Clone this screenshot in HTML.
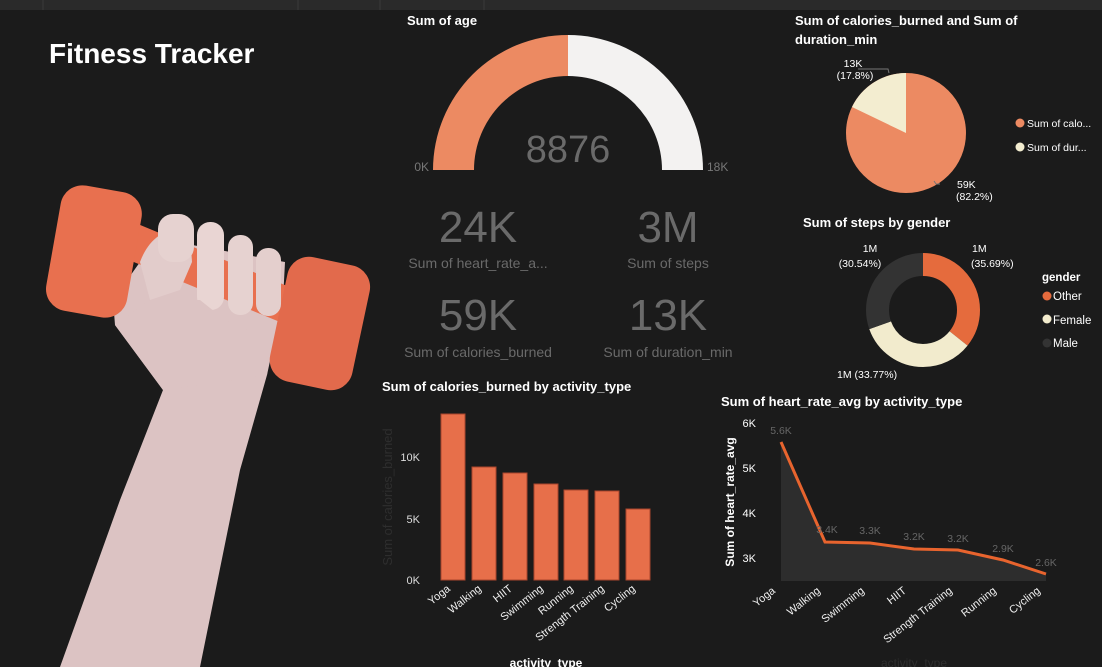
<!DOCTYPE html>
<html><head><meta charset="utf-8"><style>
body{margin:0;background:#1b1b1b;width:1102px;height:667px;overflow:hidden;font-family:"Liberation Sans",sans-serif}
svg{position:absolute;left:0;top:0}
</style></head><body>
<svg width="1102" height="667" viewBox="0 0 1102 667" xmlns="http://www.w3.org/2000/svg" font-family="Liberation Sans, sans-serif">
<rect x="0" y="0" width="1102" height="10" fill="#2a2a2a"/>
<line x1="43" y1="0" x2="43" y2="10" stroke="#3a3a3a"/><line x1="298" y1="0" x2="298" y2="10" stroke="#3a3a3a"/><line x1="380" y1="0" x2="380" y2="10" stroke="#3a3a3a"/><line x1="484" y1="0" x2="484" y2="10" stroke="#3a3a3a"/>
<text x="49" y="63" fill="#fff" font-size="28" font-weight="bold">Fitness Tracker</text>

<!-- arm image -->
<path d="M60,667 L120,500 L163,390 L115,325 L113,300 L140,262 L165,240 L285,262 L283,300 L267,375 L240,470 L200,667 Z" fill="#dcc3c3"/>
<path d="M133,222 L292,288 L280,322 L124,258 Z" fill="#e8704f"/>
<rect x="53" y="188" width="82" height="127" rx="22" fill="#e8704f" transform="rotate(10 94 251)"/>
<rect x="278" y="260" width="84" height="127" rx="22" fill="#e26a4c" transform="rotate(12 320 323)"/>
<path d="M140,262 C150,235 170,225 190,232 L192,262 L180,290 L150,300 Z" fill="#e2cccb"/>
<rect x="158" y="214" width="36" height="48" rx="15" fill="#e6d2d0"/>
<rect x="197" y="222" width="27" height="88" rx="13" fill="#e9d5d3"/>
<rect x="228" y="235" width="25" height="80" rx="12" fill="#e6d2d0"/>
<rect x="256" y="248" width="25" height="68" rx="12" fill="#e4cfcd"/>
<path d="M150,300 L200,300 L225,320 L270,340 L267,375 L163,390 L115,325 Z" fill="#dcc3c3"/>

<!-- gauge -->
<text x="407" y="25" fill="#fff" font-size="13" font-weight="bold">Sum of age</text>
<path d="M433,170 A135,135 0 0 1 568,35 L568,76 A94,94 0 0 0 474,170 Z" fill="#ec8a62"/>
<path d="M568,35 A135,135 0 0 1 703,170 L662,170 A94,94 0 0 0 568,76 Z" fill="#f3f2f1"/>
<text x="568" y="162" fill="#6a6a6a" font-size="38" text-anchor="middle">8876</text>
<text x="429" y="171" fill="#777" font-size="12" text-anchor="end">0K</text>
<text x="707" y="171" fill="#777" font-size="12">18K</text>

<g fill="#6a6a6a" text-anchor="middle">
<text x="478" y="242" font-size="44">24K</text>
<text x="668" y="242" font-size="44">3M</text>
<text x="478" y="330" font-size="44">59K</text>
<text x="668" y="330" font-size="44">13K</text>
<text x="478" y="268" font-size="14">Sum of heart_rate_a...</text>
<text x="668" y="268" font-size="14">Sum of steps</text>
<text x="478" y="357" font-size="14">Sum of calories_burned</text>
<text x="668" y="357" font-size="14">Sum of duration_min</text>
</g>

<!-- pie 1 -->
<text x="795" y="25" fill="#fff" font-size="13" font-weight="bold">Sum of calories_burned and Sum of</text>
<text x="795" y="44" fill="#fff" font-size="13" font-weight="bold">duration_min</text>
<circle cx="906" cy="133" r="60" fill="#ec8a62"/>
<path d="M906,133 L906,73 A60,60 0 0 0 852,107 Z" fill="#f3edd0"/>
<g fill="#fff" font-size="10.5">
<text x="853" y="67" text-anchor="middle">13K</text><text x="855" y="79" text-anchor="middle">(17.8%)</text>
<text x="957" y="188">59K</text><text x="956" y="200">(82.2%)</text>
<text x="1027" y="127">Sum of calo...</text><text x="1027" y="151">Sum of dur...</text>
</g>
<polyline points="858,69 888,69 889,73" fill="none" stroke="#777"/>
<polyline points="940,184 936,184 934,181" fill="none" stroke="#777"/>
<circle cx="1020" cy="123" r="4.5" fill="#ec8a62"/><circle cx="1020" cy="147" r="4.5" fill="#f3edd0"/>

<!-- donut -->
<text x="803" y="227" fill="#fff" font-size="13" font-weight="bold">Sum of steps by gender</text>
<g transform="rotate(-90 923 310)" fill="none" stroke-width="23">
<circle cx="923" cy="310" r="45.5" stroke="#e56b3d" stroke-dasharray="102 300"/>
<circle cx="923" cy="310" r="45.5" stroke="#f2ebcd" stroke-dasharray="0 102 96.5 300"/>
<circle cx="923" cy="310" r="45.5" stroke="#333" stroke-dasharray="0 198.5 87.4 300"/>
</g>
<g fill="#fff" font-size="10.5">
<text x="870" y="252" text-anchor="middle">1M</text><text x="860" y="267" text-anchor="middle">(30.54%)</text>
<text x="972" y="252">1M</text><text x="971" y="267">(35.69%)</text>
<text x="837" y="378">1M (33.77%)</text>
<text x="1042" y="281" font-weight="bold" font-size="11.5">gender</text>
<text x="1053" y="300" font-size="11.5">Other</text><text x="1053" y="324" font-size="11.5">Female</text><text x="1053" y="347" font-size="11.5">Male</text>
</g>
<circle cx="1047" cy="296" r="4.5" fill="#e56b3d"/><circle cx="1047" cy="319" r="4.5" fill="#f2ebcd"/><circle cx="1047" cy="343" r="4.5" fill="#333"/>

<!-- bar chart -->
<text x="382" y="391" fill="#fff" font-size="13" font-weight="bold">Sum of calories_burned by activity_type</text>
<g fill="#e76f4a" stroke="#a8452c" stroke-width="1">
<rect x="441" y="414" width="24" height="166"/>
<rect x="472" y="467" width="24" height="113"/>
<rect x="503" y="473" width="24" height="107"/>
<rect x="534" y="484" width="24" height="96"/>
<rect x="564" y="490" width="24" height="90"/>
<rect x="595" y="491" width="24" height="89"/>
<rect x="626" y="509" width="24" height="71"/>
</g>
<g fill="#ddd" font-size="11" text-anchor="end">
<text x="420" y="461">10K</text><text x="420" y="523">5K</text><text x="420" y="584">0K</text>
</g>
<text transform="translate(392 497) rotate(-90)" fill="#2e2e2e" font-size="13" text-anchor="middle">Sum of calories_burned</text>
<g fill="#eee" font-size="11" text-anchor="end">
<text transform="translate(451 590) rotate(-38)">Yoga</text>
<text transform="translate(482 590) rotate(-38)">Walking</text>
<text transform="translate(513 590) rotate(-38)">HIIT</text>
<text transform="translate(544 590) rotate(-38)">Swimming</text>
<text transform="translate(574 590) rotate(-38)">Running</text>
<text transform="translate(605 590) rotate(-38)">Strength Training</text>
<text transform="translate(636 590) rotate(-38)">Cycling</text>
</g>
<text x="546" y="667" fill="#fff" font-size="12" font-weight="bold" text-anchor="middle">activity_type</text>

<!-- line chart -->
<text x="721" y="406" fill="#fff" font-size="13" font-weight="bold">Sum of heart_rate_avg by activity_type</text>
<path d="M781,442 L825,542 L870,543 L914,549 L958,550 L1003,560 L1046,574 L1046,581 L781,581 Z" fill="#2d2d2d"/>
<polyline points="781,442 825,542 870,543 914,549 958,550 1003,560 1046,574" fill="none" stroke="#e8642e" stroke-width="3"/>
<g fill="#fff" font-size="11" text-anchor="end">
<text x="756" y="427">6K</text><text x="756" y="472">5K</text><text x="756" y="517">4K</text><text x="756" y="562">3K</text>
</g>
<text transform="translate(734 502) rotate(-90)" fill="#fff" font-size="12" font-weight="bold" text-anchor="middle">Sum of heart_rate_avg</text>
<g fill="#666" font-size="10.5" text-anchor="middle">
<text x="781" y="434">5.6K</text><text x="827" y="533">3.4K</text><text x="870" y="534">3.3K</text><text x="914" y="540">3.2K</text><text x="958" y="542">3.2K</text><text x="1003" y="552">2.9K</text><text x="1046" y="566">2.6K</text>
</g>
<g fill="#eee" font-size="11" text-anchor="end">
<text transform="translate(776 592) rotate(-38)">Yoga</text>
<text transform="translate(821 592) rotate(-38)">Walking</text>
<text transform="translate(865 592) rotate(-38)">Swimming</text>
<text transform="translate(907 592) rotate(-38)">HIIT</text>
<text transform="translate(953 592) rotate(-38)">Strength Training</text>
<text transform="translate(997 592) rotate(-38)">Running</text>
<text transform="translate(1041 592) rotate(-38)">Cycling</text>
</g>
<text x="914" y="667" fill="#2e2e2e" font-size="12" text-anchor="middle">activity_type</text>
</svg>
</body></html>
